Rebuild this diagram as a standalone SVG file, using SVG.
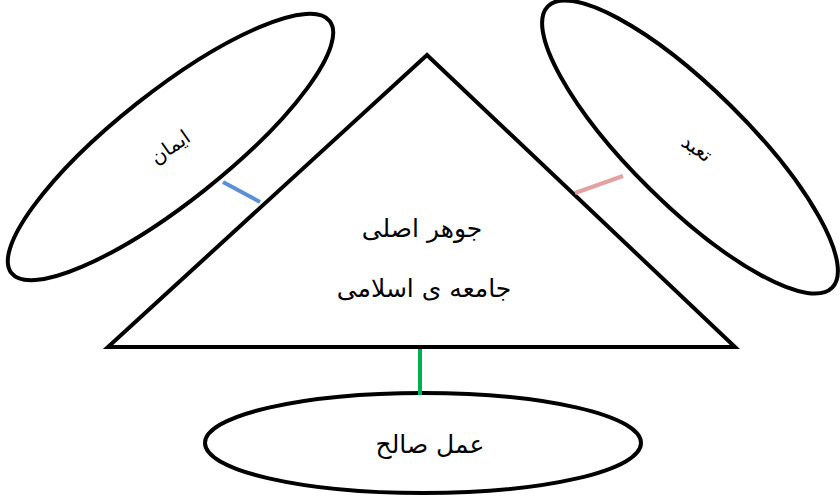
<svg xmlns="http://www.w3.org/2000/svg" width="840" height="496" viewBox="0 0 840 496">
<style>
.shape{fill:#fff;stroke:#000;stroke-width:4}
.lbl{font-family:"DejaVu Sans","Noto Sans",sans-serif;font-size:25px;fill:#000;text-anchor:middle;direction:rtl}
.small{font-size:20px}
.conn{stroke-width:4;fill:none}
</style>
<g id="iman">
<ellipse class="shape" cx="170.5" cy="147" rx="203" ry="55" transform="rotate(-38.4 170.5 147)"/>
<text class="lbl small" x="170" y="154" transform="rotate(-35 170 147)">ایمان</text>
</g>
<g id="taabbod">
<ellipse class="shape" cx="690" cy="147" rx="200" ry="58" transform="rotate(44.7 690 147)"/>
<text class="lbl small" x="697" y="155" transform="rotate(35 697 148)">تعبد</text>
</g>
<g id="amal">
<ellipse class="shape" cx="423" cy="443" rx="218" ry="50"/>
<text class="lbl" x="430" y="453">عمل صالح</text>
</g>
<g id="core">
<polygon class="shape" points="427,55 108,347 735,347" stroke-linejoin="miter"/>
<text class="lbl" x="422" y="237">جوهر اصلی</text>
<text class="lbl" x="424" y="297">جامعه ی اسلامی</text>
</g>
<g id="connectors">
<line class="conn" x1="223" y1="182" x2="260" y2="202" stroke="#5B8FD6"/>
<line class="conn" x1="575" y1="193" x2="623" y2="176" stroke="#E3A1A1"/>
<line class="conn" x1="420" y1="349" x2="420" y2="395" stroke="#00B050"/>
</g>
</svg>
